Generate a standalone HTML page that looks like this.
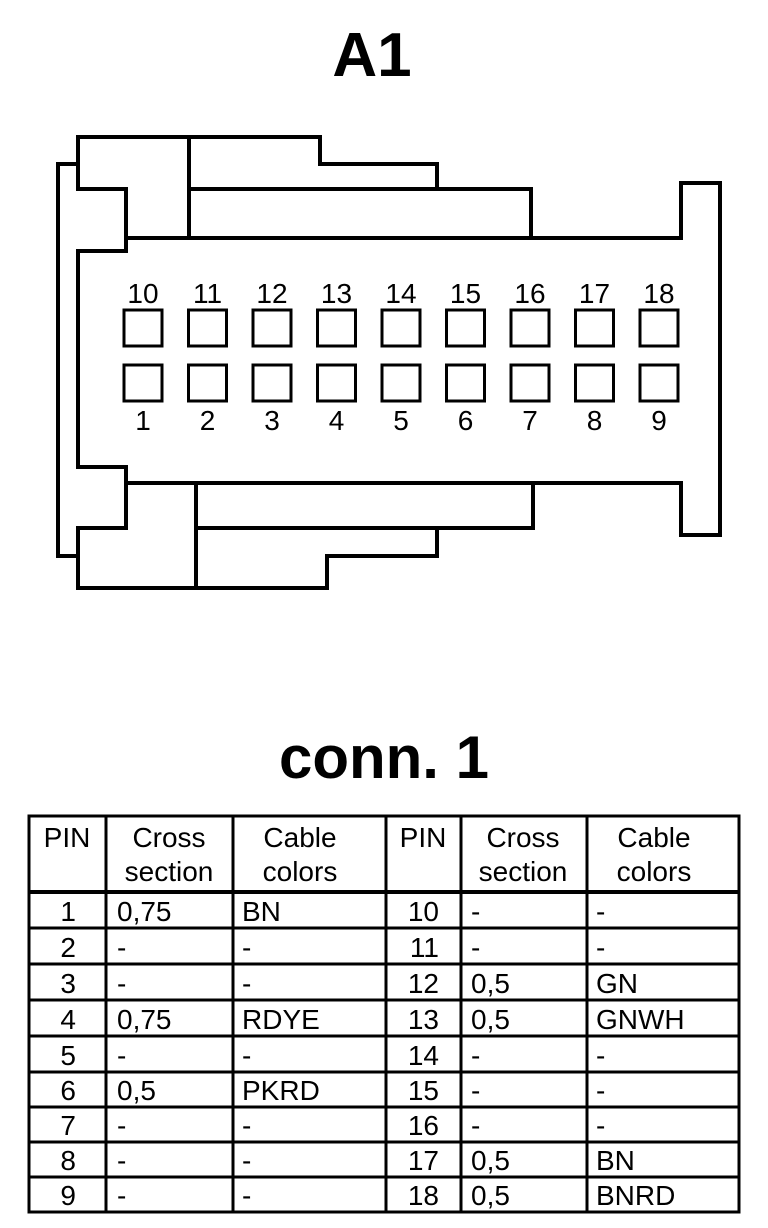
<!DOCTYPE html>
<html><head><meta charset="utf-8"><style>
html,body{margin:0;padding:0;background:#fff;}
svg{display:block;}
text{font-family:"Liberation Sans",sans-serif;fill:#000;}
</style></head><body>
<svg width="768" height="1228" viewBox="0 0 768 1228" xmlns="http://www.w3.org/2000/svg">
<text x="372" y="76" font-size="62" font-weight="bold" text-anchor="middle">A1</text>
<g fill="none" stroke="#000" stroke-width="4" stroke-linejoin="miter">
<polyline points="78,164 58,164 58,556 78,556"/>
<polygon points="78,137 320,137 320,164 437,164 437,189 531,189 531,238 681,238 681,183 720,183 720,535 681,535 681,483 533,483 533,528 437,528 437,556 327,556 327,588 78,588 78,528 126,528 126,467 78,467 78,251 126,251 126,189 78,189"/>
<line x1="189" y1="137" x2="189" y2="238"/>
<line x1="189" y1="189" x2="437" y2="189"/>
<line x1="126" y1="238" x2="531" y2="238"/>
<line x1="126" y1="483" x2="533" y2="483"/>
<line x1="196" y1="483" x2="196" y2="588"/>
<line x1="196" y1="528" x2="533" y2="528"/>
<g stroke-width="3">
<rect x="124" y="310" width="38" height="36"/><rect x="188.5" y="310" width="38" height="36"/><rect x="253" y="310" width="38" height="36"/><rect x="317.5" y="310" width="38" height="36"/><rect x="382" y="310" width="38" height="36"/><rect x="446.5" y="310" width="38" height="36"/><rect x="511" y="310" width="38" height="36"/><rect x="575.5" y="310" width="38" height="36"/><rect x="640" y="310" width="38" height="36"/>
<rect x="124" y="365" width="38" height="36"/><rect x="188.5" y="365" width="38" height="36"/><rect x="253" y="365" width="38" height="36"/><rect x="317.5" y="365" width="38" height="36"/><rect x="382" y="365" width="38" height="36"/><rect x="446.5" y="365" width="38" height="36"/><rect x="511" y="365" width="38" height="36"/><rect x="575.5" y="365" width="38" height="36"/><rect x="640" y="365" width="38" height="36"/>
</g>
</g>
<g font-size="28" text-anchor="middle">
<text x="143" y="303">10</text><text x="207.5" y="303">11</text><text x="272" y="303">12</text><text x="336.5" y="303">13</text><text x="401" y="303">14</text><text x="465.5" y="303">15</text><text x="530" y="303">16</text><text x="594.5" y="303">17</text><text x="659" y="303">18</text>
<text x="143" y="430">1</text><text x="207.5" y="430">2</text><text x="272" y="430">3</text><text x="336.5" y="430">4</text><text x="401" y="430">5</text><text x="465.5" y="430">6</text><text x="530" y="430">7</text><text x="594.5" y="430">8</text><text x="659" y="430">9</text>
</g>
<text x="384" y="778" font-size="60" font-weight="bold" text-anchor="middle">conn. 1</text>
<g fill="none" stroke="#000" stroke-width="3">
<rect x="29" y="816" width="710" height="396"/>
<line x1="106" y1="816" x2="106" y2="1212"/>
<line x1="233" y1="816" x2="233" y2="1212"/>
<line x1="386" y1="816" x2="386" y2="1212"/>
<line x1="461" y1="816" x2="461" y2="1212"/>
<line x1="587" y1="816" x2="587" y2="1212"/>
<line x1="29" y1="892" x2="739" y2="892" stroke-width="4"/>
<line x1="29" y1="928" x2="739" y2="928"/>
<line x1="29" y1="964" x2="739" y2="964"/>
<line x1="29" y1="1000" x2="739" y2="1000"/>
<line x1="29" y1="1036" x2="739" y2="1036"/>
<line x1="29" y1="1072" x2="739" y2="1072"/>
<line x1="29" y1="1107" x2="739" y2="1107"/>
<line x1="29" y1="1142" x2="739" y2="1142"/>
<line x1="29" y1="1177" x2="739" y2="1177"/>
</g>
<g font-size="28">
<g text-anchor="middle">
<text x="67" y="847">PIN</text><text x="169" y="847">Cross</text><text x="169" y="881">section</text><text x="300" y="847">Cable</text><text x="300" y="881">colors</text>
<text x="423" y="847">PIN</text><text x="523" y="847">Cross</text><text x="523" y="881">section</text><text x="654" y="847">Cable</text><text x="654" y="881">colors</text>
</g>
<g text-anchor="end">
<text x="76" y="921">1</text><text x="76" y="957">2</text><text x="76" y="993">3</text><text x="76" y="1029">4</text><text x="76" y="1065">5</text><text x="76" y="1100">6</text><text x="76" y="1135">7</text><text x="76" y="1170">8</text><text x="76" y="1205">9</text>
<text x="439" y="921">10</text><text x="439" y="957">11</text><text x="439" y="993">12</text><text x="439" y="1029">13</text><text x="439" y="1065">14</text><text x="439" y="1100">15</text><text x="439" y="1135">16</text><text x="439" y="1170">17</text><text x="439" y="1205">18</text>
</g>
<text x="117" y="921">0,75</text><text x="117" y="957">-</text><text x="117" y="993">-</text><text x="117" y="1029">0,75</text><text x="117" y="1065">-</text><text x="117" y="1100">0,5</text><text x="117" y="1135">-</text><text x="117" y="1170">-</text><text x="117" y="1205">-</text>
<text x="242" y="921">BN</text><text x="242" y="957">-</text><text x="242" y="993">-</text><text x="242" y="1029">RDYE</text><text x="242" y="1065">-</text><text x="242" y="1100">PKRD</text><text x="242" y="1135">-</text><text x="242" y="1170">-</text><text x="242" y="1205">-</text>
<text x="471" y="921">-</text><text x="471" y="957">-</text><text x="471" y="993">0,5</text><text x="471" y="1029">0,5</text><text x="471" y="1065">-</text><text x="471" y="1100">-</text><text x="471" y="1135">-</text><text x="471" y="1170">0,5</text><text x="471" y="1205">0,5</text>
<text x="596" y="921">-</text><text x="596" y="957">-</text><text x="596" y="993">GN</text><text x="596" y="1029">GNWH</text><text x="596" y="1065">-</text><text x="596" y="1100">-</text><text x="596" y="1135">-</text><text x="596" y="1170">BN</text><text x="596" y="1205">BNRD</text>
</g>
</svg>
</body></html>
